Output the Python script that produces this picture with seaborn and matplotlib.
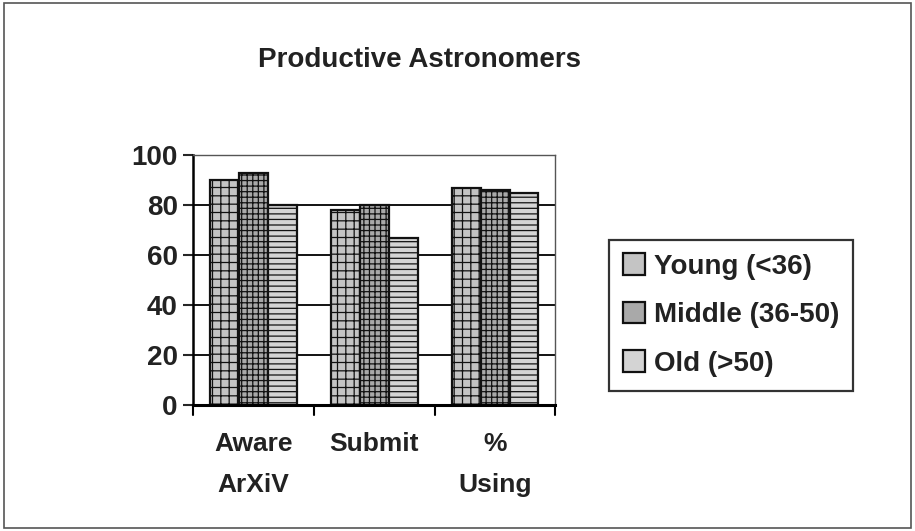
import matplotlib.pyplot as plt
import seaborn as sns
import pandas as pd
import numpy as np

categories = ['Aware\nArXiV', 'Submit', '%\nUsing']
groups = ['Young (<36)', 'Middle (36-50)', 'Old (>50)']
young = [90, 78, 87]
middle = [93, 80, 86]
old = [80, 67, 85]

df = pd.DataFrame({
    'Category': categories * 3,
    'Group': [g for g in groups for _ in categories],
    'Value': young + middle + old,
})

sns.set_style('white')
plt.rcParams['font.family'] = ['Liberation Sans', 'DejaVu Sans']
plt.rcParams['hatch.linewidth'] = 0.9

fig = plt.figure(figsize=(9.15, 5.31), dpi=100)
ax = fig.add_axes([0.211, 0.237, 0.396, 0.471])

sns.barplot(data=df, x='Category', y='Value', hue='Group', ax=ax,
            palette=['#c4c4c4', '#a9a9a9', '#d4d4d4'], width=0.72,
            edgecolor='#111111', linewidth=1.6, saturation=1, errorbar=None)

hatches = ['++', '+++', '---']
for cont, h in zip(ax.containers, hatches):
    for bar in cont:
        bar.set_hatch(h)

ax.set_xlim(-0.5, 2.5)
ax.set_ylim(0, 100)
ax.set_yticks([0, 20, 40, 60, 80, 100])
ax.yaxis.grid(True, color='black', linewidth=1.3)
ax.set_axisbelow(True)
ax.set_xlabel('')
ax.set_ylabel('')
for s in ax.spines.values():
    s.set_color('#555555')
    s.set_linewidth(1.0)
ax.spines['left'].set_color('black')
ax.spines['left'].set_linewidth(1.8)
ax.spines['bottom'].set_color('black')
ax.spines['bottom'].set_linewidth(2.2)
ax.tick_params(axis='y', left=True, length=7, width=1.5, labelsize=20, pad=4,
               labelcolor='#222222')
ax.tick_params(axis='x', bottom=False, labelsize=19, pad=16, labelcolor='#222222')
for t in ax.get_yticklabels():
    t.set_fontweight('bold')
for t in ax.get_xticklabels():
    t.set_fontweight('bold')
    t.set_verticalalignment('top')
    t.set_linespacing(1.9)

# category boundary ticks below the floor
for xb in [-0.5, 0.5, 1.5, 2.5]:
    ax.plot([xb, xb], [0, -4], color='black', lw=1.5, clip_on=False)

leg = ax.legend(loc='center left', bbox_to_anchor=(1.11, 0.36), frameon=True,
                fancybox=False, edgecolor='black', fontsize=20,
                handlelength=0.8, handleheight=0.8, handletextpad=0.3,
                labelspacing=0.8, borderpad=0.5)
leg.get_frame().set_linewidth(1.6)
for t in leg.get_texts():
    t.set_fontweight('bold')
    t.set_color('#222222')

fig.text(0.459, 0.887, 'Productive Astronomers', ha='center', va='center',
         fontsize=20, fontweight='bold', color='#222222')

fig.patches.append(plt.Rectangle((0.004, 0.006), 0.992, 0.988, transform=fig.transFigure,
                                 fill=False, edgecolor='#555555', linewidth=1.2))

fig.savefig('out.png', dpi=100)
